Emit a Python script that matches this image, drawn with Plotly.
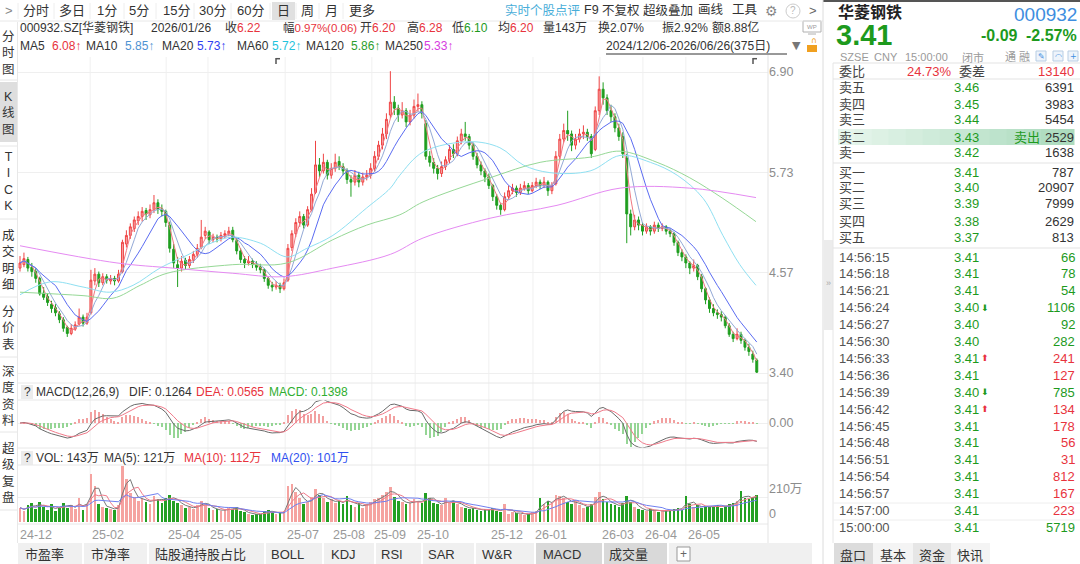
import plotly.graph_objects as go
import pandas as pd

# one candle = two trading days, 2024/12/06 - 2026/06/26
opens = [4.62, 4.66, 4.72, 4.63, 4.58, 4.50, 4.33, 4.29, 4.20, 4.16,
         4.09, 4.02, 3.93, 3.86, 3.91, 3.97, 4.05, 3.98, 4.10, 4.47,
         4.55, 4.45, 4.52, 4.47, 4.50, 4.47, 4.58, 4.90, 5.00, 5.08,
         5.17, 5.22, 5.29, 5.24, 5.30, 5.38, 5.31, 5.28, 5.12, 4.84,
         4.66, 4.62, 4.71, 4.65, 4.72, 4.78, 4.86, 5.00, 5.04, 4.95,
         4.98, 4.96, 5.00, 5.02, 5.06, 4.94, 4.82, 4.72, 4.68, 4.70,
         4.66, 4.63, 4.60, 4.50, 4.42, 4.40, 4.42, 4.38, 4.48, 4.86,
         5.02, 5.15, 5.22, 5.12, 5.30, 5.50, 5.82, 5.75, 5.85, 5.70,
         5.78, 5.86, 5.80, 5.75, 5.65, 5.62, 5.70, 5.62, 5.68, 5.70,
         5.78, 5.92, 6.05, 6.18, 6.40, 6.55, 6.48, 6.40, 6.45, 6.32,
         6.40, 6.50, 6.52, 6.30, 5.92, 5.85, 5.78, 5.72, 5.80, 5.88,
         6.00, 5.95, 6.10, 6.18, 6.15, 6.05, 5.92, 5.82, 5.75, 5.68,
         5.58, 5.45, 5.35, 5.30, 5.45, 5.52, 5.55, 5.50, 5.55, 5.58,
         5.52, 5.58, 5.62, 5.58, 5.62, 5.52, 5.60, 5.92, 6.12, 6.22,
         6.18, 6.05, 6.12, 6.18, 6.20, 6.15, 6.00, 6.45, 6.70, 6.60,
         6.45, 6.38, 6.25, 6.15, 5.90, 5.25, 5.10, 5.18, 5.12, 5.05,
         5.10, 5.05, 5.12, 5.08, 5.10, 5.05, 5.02, 4.92, 4.80, 4.75,
         4.68, 4.62, 4.65, 4.52, 4.38, 4.25, 4.15, 4.10, 4.08, 4.05,
         3.95, 3.85, 3.80, 3.85, 3.78, 3.70, 3.62, 3.55]
highs = [4.76, 4.80, 4.75, 4.68, 4.62, 4.52, 4.40, 4.33, 4.24, 4.20,
         4.12, 4.05, 3.95, 3.97, 4.00, 4.15, 4.08, 4.10, 4.60, 4.62,
         4.58, 4.56, 4.55, 4.54, 4.53, 4.60, 4.95, 5.06, 5.14, 5.22,
         5.28, 5.33, 5.32, 5.36, 5.47, 5.42, 5.36, 5.30, 5.16, 4.90,
         4.75, 4.76, 4.74, 4.76, 4.82, 4.90, 5.18, 5.10, 5.06, 5.02,
         5.01, 5.04, 5.06, 5.10, 5.10, 4.97, 4.85, 4.76, 4.76, 4.73,
         4.70, 4.67, 4.62, 4.52, 4.46, 4.47, 4.45, 4.50, 4.90, 5.06,
         5.20, 5.28, 5.25, 5.34, 5.55, 6.10, 5.90, 5.95, 5.88, 5.84,
         5.95, 5.92, 5.84, 5.78, 5.70, 5.76, 5.74, 5.73, 5.76, 5.84,
         5.98, 6.10, 6.25, 6.42, 6.91, 6.62, 6.52, 6.55, 6.48, 6.46,
         6.58, 6.65, 6.56, 6.34, 5.98, 5.90, 5.82, 5.86, 5.92, 6.05,
         6.06, 6.15, 6.24, 6.32, 6.18, 6.08, 5.96, 5.86, 5.78, 5.72,
         5.60, 5.48, 5.38, 5.50, 5.58, 5.60, 5.58, 5.60, 5.63, 5.61,
         5.62, 5.67, 5.65, 5.68, 5.64, 5.62, 5.98, 6.18, 6.30, 6.45,
         6.22, 6.18, 6.24, 6.28, 6.24, 6.18, 6.50, 6.85, 6.78, 6.64,
         6.52, 6.42, 6.30, 6.20, 5.95, 5.30, 5.24, 5.22, 5.15, 5.14,
         5.12, 5.16, 5.15, 5.14, 5.12, 5.08, 5.04, 4.94, 4.84, 4.78,
         4.70, 4.72, 4.67, 4.55, 4.40, 4.28, 4.20, 4.14, 4.12, 4.07,
         3.98, 3.88, 3.92, 3.88, 3.80, 3.74, 3.66, 3.57]
lows = [4.58, 4.63, 4.58, 4.52, 4.45, 4.30, 4.25, 4.18, 4.10, 4.06,
        3.98, 3.88, 3.82, 3.84, 3.89, 3.95, 3.94, 3.96, 4.08, 4.42,
        4.40, 4.42, 4.44, 4.43, 4.42, 4.45, 4.56, 4.86, 4.96, 5.04,
        5.12, 5.16, 5.18, 5.20, 5.26, 5.25, 5.22, 5.10, 4.80, 4.62,
        4.40, 4.58, 4.60, 4.62, 4.68, 4.74, 4.84, 4.96, 4.90, 4.92,
        4.92, 4.93, 4.97, 4.99, 4.92, 4.78, 4.68, 4.62, 4.65, 4.62,
        4.59, 4.56, 4.46, 4.38, 4.35, 4.37, 4.33, 4.36, 4.46, 4.82,
        4.98, 5.10, 5.08, 5.10, 5.28, 5.48, 5.68, 5.72, 5.65, 5.66,
        5.74, 5.76, 5.70, 5.60, 5.45, 5.58, 5.56, 5.58, 5.64, 5.66,
        5.74, 5.88, 6.00, 6.12, 6.36, 6.40, 6.32, 6.36, 6.26, 6.28,
        6.36, 6.44, 6.36, 5.88, 5.80, 5.72, 5.65, 5.68, 5.76, 5.84,
        5.90, 5.92, 6.06, 6.10, 6.00, 5.88, 5.78, 5.70, 5.62, 5.54,
        5.40, 5.30, 5.24, 5.28, 5.42, 5.48, 5.45, 5.47, 5.52, 5.48,
        5.50, 5.55, 5.54, 5.55, 5.46, 5.48, 5.58, 5.88, 6.08, 6.10,
        5.98, 6.00, 6.08, 6.12, 6.10, 5.90, 5.98, 6.40, 6.52, 6.40,
        6.32, 6.20, 6.10, 5.90, 4.91, 5.00, 5.06, 5.06, 5.00, 5.02,
        5.00, 5.02, 5.04, 5.05, 5.01, 4.98, 4.88, 4.76, 4.70, 4.62,
        4.55, 4.58, 4.48, 4.34, 4.20, 4.10, 4.06, 4.03, 4.00, 3.92,
        3.82, 3.76, 3.78, 3.74, 3.66, 3.60, 3.52, 3.40]
closes = [4.68, 4.73, 4.62, 4.58, 4.50, 4.32, 4.28, 4.22, 4.15, 4.10,
          4.02, 3.92, 3.86, 3.92, 3.96, 4.05, 3.98, 4.05, 4.48, 4.55,
          4.45, 4.52, 4.48, 4.50, 4.47, 4.55, 4.92, 5.00, 5.10, 5.18,
          5.22, 5.28, 5.25, 5.30, 5.38, 5.30, 5.28, 5.15, 4.85, 4.68,
          4.62, 4.70, 4.65, 4.72, 4.78, 4.85, 4.98, 5.05, 4.95, 4.98,
          4.96, 5.00, 5.02, 5.05, 4.95, 4.82, 4.72, 4.68, 4.70, 4.66,
          4.63, 4.60, 4.50, 4.42, 4.40, 4.42, 4.38, 4.45, 4.85, 5.02,
          5.15, 5.22, 5.12, 5.30, 5.48, 5.82, 5.75, 5.85, 5.70, 5.78,
          5.85, 5.80, 5.75, 5.65, 5.62, 5.70, 5.62, 5.68, 5.70, 5.78,
          5.92, 6.05, 6.18, 6.35, 6.55, 6.48, 6.40, 6.45, 6.32, 6.40,
          6.50, 6.52, 6.42, 5.92, 5.85, 5.78, 5.72, 5.80, 5.88, 6.00,
          5.95, 6.10, 6.18, 6.15, 6.05, 5.92, 5.82, 5.75, 5.68, 5.58,
          5.45, 5.35, 5.30, 5.45, 5.52, 5.55, 5.50, 5.55, 5.58, 5.52,
          5.58, 5.62, 5.58, 5.62, 5.52, 5.58, 5.92, 6.12, 6.22, 6.18,
          6.05, 6.12, 6.18, 6.20, 6.15, 5.95, 6.45, 6.70, 6.60, 6.45,
          6.38, 6.25, 6.15, 5.95, 5.25, 5.10, 5.18, 5.12, 5.05, 5.10,
          5.05, 5.12, 5.08, 5.10, 5.05, 5.02, 4.92, 4.80, 4.75, 4.68,
          4.62, 4.65, 4.52, 4.38, 4.25, 4.15, 4.10, 4.08, 4.05, 3.95,
          3.85, 3.80, 3.85, 3.78, 3.70, 3.65, 3.56, 3.41]
volumes = [120, 95, 140, 160, 110, 170, 130, 100, 150, 90,
           130, 160, 120, 140, 110, 200, 100, 150, 400, 300,
           150, 130, 120, 110, 100, 140, 470, 360, 240, 210,
           180, 200, 170, 150, 220, 190, 160, 200, 230, 180,
           160, 140, 120, 130, 110, 140, 180, 150, 120, 100,
           110, 90, 100, 120, 110, 130, 90, 80, 70, 60,
           65, 70, 90, 100, 80, 70, 75, 90, 300, 320,
           250, 200, 150, 170, 210, 280, 230, 200, 170, 190,
           160, 180, 150, 220, 140, 130, 160, 120, 150, 170,
           190, 200, 230, 250, 290, 210, 180, 170, 150, 160,
           190, 170, 160, 240, 200, 160, 150, 140, 200, 160,
           180, 150, 130, 120, 110, 120, 100, 90, 110, 100,
           120, 90, 80, 150, 70, 80, 75, 70, 60, 65,
           80, 90, 200, 150, 180, 160, 230, 220, 200, 170,
           150, 180, 140, 120, 130, 150, 210, 250, 190, 170,
           150, 140, 130, 160, 220, 170, 130, 110, 100, 90,
           110, 100, 85, 95, 90, 100, 110, 120, 105, 220,
           150, 130, 140, 120, 135, 125, 130, 140, 120, 135,
           150, 160, 180, 260, 200, 190, 210, 230]  # 万股

# month boundaries (candle index) and their labels
month_pos = [-0.5, 17.8, 37.1, 47.7, 67.3, 78.9, 89.3, 100.3, 119.0, 130.2, 147.2, 158.1, 169.0]
month_labels = ["24-12", "25-02", "25-04", "25-05", "25-07", "25-08", "25-09", "25-10",
                "25-12", "26-01", "26-03", "26-04", "26-05"]

# long moving averages: (candle index, price)
ma60_at = [0, 7.6, 16, 22.8, 28.7, 35.5, 42.4, 49, 54, 61, 67.8, 72.8, 79.4, 88, 94, 96.4,
           102.3, 114.2, 121.8, 127.7, 134.5, 144.7, 152.3, 160, 166.8, 173.4, 178.4, 182.7, 186.8]
ma60_val = [4.31, 4.46, 4.40, 4.34, 4.42, 4.62, 4.77, 4.92, 4.98, 4.91, 4.75, 4.85, 5.00, 5.32, 5.55, 5.70,
            5.97, 6.09, 6.02, 5.82, 5.73, 5.75, 5.93, 5.85, 5.70, 5.43, 5.00, 4.66, 4.42]
ma120_at = [0, 16, 23.6, 30.5, 37.3, 54, 67.8, 79.4, 88, 96.4, 102.3, 119.3, 132, 144.7, 152.3,
            161.7, 170, 178.4, 186.8]
ma120_val = [4.34, 4.30, 4.27, 4.42, 4.56, 4.66, 4.68, 4.95, 5.12, 5.24, 5.39, 5.67, 5.85, 5.91, 5.98,
             5.85, 5.67, 5.43, 5.16]
ma250_at = [0, 24.6, 38.8, 54, 66.8, 79.4, 94, 102.3, 119.3, 136.3, 152.3, 170, 186.8]
ma250_val = [4.88, 4.68, 4.62, 4.56, 4.52, 4.62, 4.78, 4.97, 5.20, 5.35, 5.55, 5.55, 5.44]

# order book and last trades
book_labels = ["卖五", "卖四", "卖三", "卖二", "卖一", "买一", "买二", "买三", "买四", "买五"]
book_prices = ["3.46", "3.45", "3.44", "3.43", "3.42", "3.41", "3.40", "3.39", "3.38", "3.37"]
book_vols = [6391, 3983, 5454, 2529, 1638, 787, 20907, 7999, 2629, 813]
tick_times = ["14:56:15", "14:56:18", "14:56:21", "14:56:24", "14:56:27", "14:56:30", "14:56:33",
              "14:56:36", "14:56:39", "14:56:42", "14:56:45", "14:56:48", "14:56:51", "14:56:54",
              "14:56:57", "14:57:00", "15:00:00"]
tick_prices = ["3.41", "3.41", "3.41", "3.40", "3.40", "3.40", "3.41", "3.41", "3.40", "3.41",
               "3.41", "3.41", "3.41", "3.41", "3.41", "3.41", "3.41"]
tick_vols = [66, 78, 54, 1106, 92, 282, 241, 127, 785, 134, 178, 56, 31, 812, 167, 223, 5719]
tick_side = ["S", "S", "S", "S", "S", "S", "B", "B", "S", "B", "B", "B", "B", "B", "B", "B", "S"]
tick_arrow = ["", "", "", "down", "", "", "up", "", "down", "up", "", "", "", "", "", "", ""]

W, H = 1080, 564
FONT = "Liberation Sans, Noto Sans CJK SC"
RED, GREEN = "#e8333d", "#1d9a1d"
UP = "↑"

n = len(closes)
idx = list(range(n))
s = pd.Series(closes)
ma5 = s.rolling(3, min_periods=1).mean()
ma10 = s.rolling(5, min_periods=1).mean()
ma20 = s.rolling(10, min_periods=1).mean()
# MACD(12,26,9) on two-day bars
dif = s.ewm(alpha=0.284, adjust=False).mean() - s.ewm(alpha=0.1427, adjust=False).mean()
dea = dif.ewm(alpha=0.36, adjust=False).mean()
hist = 2 * (dif - dea)
v = pd.Series(volumes)
vma5 = v.rolling(3, min_periods=1).mean()
vma10 = v.rolling(5, min_periods=1).mean()
vma20 = v.rolling(10, min_periods=1).mean()
up = [c >= o for o, c in zip(opens, closes)]

fig = go.Figure()
fig.add_trace(go.Candlestick(
    x=idx, open=opens, high=highs, low=lows, close=closes, whiskerwidth=0,
    increasing=dict(line=dict(color="#ef4444", width=1), fillcolor="#f6a8a8"),
    decreasing=dict(line=dict(color="#1f9e1f", width=1), fillcolor="#1f9e1f"),
    hoverinfo="skip", xaxis="x", yaxis="y"))
for y, col in [(ma5, "#f07882"), (ma10, "#93a9d6"), (ma20, "#5b6cf2")]:
    fig.add_trace(go.Scatter(x=idx, y=y, mode="lines", line=dict(color=col, width=1),
                             hoverinfo="skip", xaxis="x", yaxis="y"))
for xs, ys, col in [(ma60_at, ma60_val, "#8fe0f2"), (ma120_at, ma120_val, "#96d896"),
                    (ma250_at, ma250_val, "#e58af2")]:
    fig.add_trace(go.Scatter(x=xs, y=ys, mode="lines", line=dict(color=col, width=1, shape="spline"),
                             hoverinfo="skip", xaxis="x", yaxis="y"))

fig.add_trace(go.Bar(x=idx, y=hist, width=0.3,
                     marker=dict(color=["#f2a0a0" if h >= 0 else "#95d595" for h in hist], line_width=0),
                     hoverinfo="skip", xaxis="x2", yaxis="y2"))
fig.add_trace(go.Scatter(x=idx, y=dif, mode="lines", line=dict(color="#6a6a6a", width=1),
                         hoverinfo="skip", xaxis="x2", yaxis="y2"))
fig.add_trace(go.Scatter(x=idx, y=dea, mode="lines", line=dict(color="#f07a8a", width=1),
                         hoverinfo="skip", xaxis="x2", yaxis="y2"))

fig.add_trace(go.Bar(x=idx, y=volumes, width=0.68,
                     marker=dict(color=["#f5a3a0" if u else "#23a023" for u in up], line_width=0),
                     hoverinfo="skip", xaxis="x3", yaxis="y3"))
for y, col in [(vma5, "#777777"), (vma10, "#f07a8a"), (vma20, "#7080f0")]:
    fig.add_trace(go.Scatter(x=idx, y=y, mode="lines", line=dict(color=col, width=1),
                             hoverinfo="skip", xaxis="x3", yaxis="y3"))

ann = []
shapes = []


def text(x, y, t, size=12, color="#333", anchor="left", family=FONT, bold=False):
    if bold:
        t = "<b>" + t + "</b>"
    ann.append(dict(x=x / W, y=1 - y / H, xref="paper", yref="paper", text=t, showarrow=False,
                    xanchor=anchor, yanchor="middle", borderpad=0,
                    font=dict(size=size, color=color, family=family)))


def rect(x0, y0, x1, y1, fill, line=None):
    shapes.append(dict(type="rect", xref="paper", yref="paper", x0=x0 / W, x1=x1 / W,
                       y0=1 - y1 / H, y1=1 - y0 / H, fillcolor=fill,
                       line=dict(color=line or fill, width=1 if line else 0), layer="below"))


def line(x0, y0, x1, y1, color="#e6e6e6", width=1):
    shapes.append(dict(type="line", xref="paper", yref="paper", x0=x0 / W, x1=x1 / W,
                       y0=1 - y0 / H, y1=1 - y1 / H, line=dict(color=color, width=width)))


def c(t, col):
    return "<span style='color:%s'>%s</span>" % (col, t)


# ---- toolbar ----
rect(272, 2, 295, 20, "#e0e0e0")
text(9, 10.5, ">", 13, "#888", "center")
for t, x in [("分时", 36), ("多日", 72), ("1分", 107), ("5分", 139), ("15分", 176), ("30分", 212),
             ("60分", 250), ("日", 283), ("周", 307), ("月", 331), ("更多", 362)]:
    text(x, 10.5, t, 13, "#333", "center")
for x in [18, 54, 90, 124, 156, 194, 231, 270, 296, 319, 343]:
    line(x, 3, x, 19, "#eeeeee")
line(0, 21, 823, 21, "#e8e8e8")
text(542, 10.5, "实时个股点评", 12.5, "#4aaed9", "center")
for t, x in [("F9", 591), ("不复权", 621), ("超级叠加", 668), ("画线", 711), ("工具", 745)]:
    text(x, 10.5, t, 12.5, "#333", "center")
text(771, 11, "⚙", 14, "#888", "center", "DejaVu Sans")
shapes.append(dict(type="circle", xref="paper", yref="paper", x0=786 / W, x1=800 / W,
                   y0=1 - 18 / H, y1=1 - 4 / H, line=dict(color="#cccccc", width=1)))
text(793, 11, "?", 10, "#bbbbbb", "center")
text(813, 10.5, ">", 13, "#666", "center")

# ---- info rows ----
text(19, 28, "000932.SZ[华菱钢铁]")
text(150, 28, "2026/01/26")
text(224, 28, "收" + c("6.22", RED))
text(282, 28, "幅" + c("0.97%(0.06)", RED), 11.5)
text(359, 28, "开" + c("6.20", RED))
text(406, 28, "高" + c("6.28", RED))
text(451, 28, "低" + c("6.10", GREEN))
text(497, 28, "均" + c("6.20", RED))
text(542, 28, "量143万")
text(597, 28, "换2.07%")
text(661, 28, "振2.92%")
text(711, 28, "额8.88亿")
rect(803, 21, 821, 32, "white", "#b0b0b0")
text(812, 26.5, "WP", 6, "#999", "center")
line(808, 34, 816, 34, "#b0b0b0")

for t, x, col in [("MA5", 19, None), ("6.08" + UP, 51, RED), ("MA10", 85, None), ("5.85" + UP, 124, "#4f93d2"),
                  ("MA20", 161, None), ("5.73" + UP, 196, "#2f3ff0"), ("MA60", 236, None),
                  ("5.72" + UP, 271, "#22c3dc"), ("MA120", 305, None), ("5.86" + UP, 350, "#2e9e2e"),
                  ("MA250", 384, None), ("5.33" + UP, 423, "#d63ce0")]:
    text(x, 46, c(t, col) if col else t)
text(605, 46, "2024/12/06-2026/06/26(375日)")
line(606, 54, 787, 54, "#333", 1)
text(796, 46, "▼", 11, "#777", "center", "DejaVu Sans")
rect(807, 45, 817, 52, "#f0a020")
text(814, 41, "∩", 8, "#f0a020", "center", "DejaVu Sans")

# ---- left sidebar ----
rect(0, 82, 17, 142, "#dedede")
for t, y in [("分<br>时<br>图", 53), ("K<br>线<br>图", 113), ("T<br>I<br>C<br>K", 181),
             ("成<br>交<br>明<br>细", 260), ("分<br>价<br>表", 328), ("深<br>度<br>资<br>料", 396),
             ("超<br>级<br>复<br>盘", 473)]:
    text(8.5, y, t, 12.5, "#333", "center")
for y in [80, 146, 219, 297, 357, 432, 510]:
    line(0, y, 17, y, "#e6e6e6")
line(17.5, 22, 17.5, 543, "#e8e8e8")

# ---- pane frames ----
for y in [383, 400, 448, 465, 524]:
    line(18, y, 768, y, "#e8e8e8")
line(768, 55, 768, 543, "#e3e3e3")
for p in month_pos[1:]:
    shapes.append(dict(type="line", xref="x", yref="paper", x0=p, x1=p, y0=1 - 524 / H, y1=1 - 57 / H,
                       line=dict(color="#f0f0f0", width=1), layer="below"))
for x in [276, 753]:
    line(x, 58, x, 64, "#555", 1.5)
    line(x, 58.7, x + 4, 58.7, "#555", 1.5)

rect(21, 385, 33, 399, "#ececec")
text(27, 392, "?", 12, "#333", "center")
text(35, 392, "MACD(12,26,9)")
text(128, 392, "DIF: 0.1264")
text(195, 392, c("DEA: 0.0565", RED))
text(268, 392, c("MACD: 0.1398", "#2fae2f"))
rect(21, 451, 33, 465, "#ececec")
text(27, 458, "?", 12, "#333", "center")
text(35, 458, "VOL: 143万")
text(103, 458, "MA(5): 121万")
text(183, 458, c("MA(10): 112万", RED))
text(270, 458, c("MA(20): 101万", "#3050f0"))

for p, t in zip(month_pos, month_labels):
    ann.append(dict(x=p, y=1 - 535 / H, xref="x3", yref="paper", text=t, showarrow=False,
                    xanchor="left", yanchor="middle", xshift=1, borderpad=0,
                    font=dict(size=12.5, color="#999", family=FONT)))

# ---- bottom tabs ----
rect(18, 543, 812, 564, "#f0f0f0")
rect(536, 543, 668, 564, "#d9d9d9")
for x in [83, 148, 265, 323, 375, 422, 475, 535, 603, 668]:
    line(x, 543, x, 564, "white", 2)
for t, x in [("市盈率", 44), ("市净率", 110), ("陆股通持股占比", 200), ("BOLL", 287), ("KDJ", 343),
             ("RSI", 392), ("SAR", 441), ("W&R", 497), ("MACD", 562), ("成交量", 628)]:
    text(x, 554, t, 13, "#333", "center")
rect(677, 547, 690, 561, "white", "#999")
text(683.5, 554, "+", 12, "#666", "center")

# ---- separator ----
line(823, 0, 823, 564, "#dcdcdc")
rect(824, 240, 833, 330, "#ececec")
text(828.5, 283, "»", 9, "#aaa", "center")
rect(823, 0, 1080, 2, "#555")

# ---- quote panel ----
text(837, 11.5, "华菱钢铁", 16, "#222", bold=True)
text(1078, 15, "000932", 19, "#3e8ee0", "right")
text(835, 34.5, "3.41", 29, GREEN, bold=True)
text(1019, 35, "-0.09", 16, GREEN, "right", bold=True)
text(1078, 35, "-2.57%", 16, GREEN, "right", bold=True)
for t, x in [("SZSE", 839), ("CNY", 873), ("15:00:00", 904), ("闭市", 961), ("通 融", 1004)]:
    text(x, 57, t, 11, "#9a9a9a")
for x, g in [(1041, "✎"), (1058, "◠"), (1073, "+")]:
    rect(x - 5, 51, x + 5, 61, "#eef4fb", "#b8cde3")
    text(x, 56, g, 8, "#3e8ee0", "center", "DejaVu Sans")
line(833, 63, 1080, 63, "#e3e3e3")
line(833, 63, 833, 543, "#e6e6e6")
text(838, 71, "委比", 13, "#444")
text(953, 71, "24.73%", 13, RED, "right")
text(958, 71, "委差", 13, "#444")
text(1075, 71, "13140", 13, RED, "right")
line(833, 79, 1080, 79, "#e3e3e3")

steps = 14
for k in range(steps):
    f = k / (steps - 1)
    col = "rgb(%d,%d,%d)" % (230 - 58 * f, 245 - 26 * f, 236 - 46 * f)
    rect(838 + 236 * k / steps, 129, 838 + 236 * (k + 1) / steps + 0.5, 145, col)
book_y = [87, 104, 120, 137, 153, 172, 188, 204, 221, 237]
for lab, pr, vol, y in zip(book_labels, book_prices, book_vols, book_y):
    text(838, y, lab, 13, "#444")
    text(953, y, pr, 13, GREEN)
    text(1075, y, str(vol), 13, "#333", "right")
text(1013, 137, "卖出", 13, GREEN)
line(833, 163, 1080, 163, "#e3e3e3")
line(833, 248, 1080, 248, "#e3e3e3")

for k, (tm, pr, vol, sd, ar) in enumerate(zip(tick_times, tick_prices, tick_vols, tick_side, tick_arrow)):
    y = 257 + k * 16.9
    text(838, y, tm, 13, "#555")
    text(953, y, pr, 13, GREEN)
    if ar:
        text(985, y, "⬇" if ar == "down" else "⬆", 9, GREEN if ar == "down" else RED, "center", "DejaVu Sans")
    text(1076, y, str(vol), 13, RED if sd == "B" else GREEN, "right")
line(833, 503, 1080, 503, "#eeeeee")
line(833, 520, 1080, 520, "#eeeeee")

rect(834, 543, 873, 564, "#dcdcdc")
rect(873, 543, 913, 564, "#f4f4f4")
rect(913, 543, 951, 564, "#e6e6e6")
rect(951, 543, 990, 564, "#f4f4f4")
for t, x in [("盘口", 853), ("基本", 893), ("资金", 932), ("快讯", 970)]:
    text(x, 555, t, 13, "#333", "center")

xa = dict(domain=[18 / W, 768 / W], range=[-0.51, 189.85], showticklabels=False, showgrid=False,
          zeroline=False, fixedrange=True, showline=False, ticks="")
ya = dict(side="right", zeroline=False, showline=False, ticks="", fixedrange=True,
          gridcolor="#efefef", tickfont=dict(size=12.5, color="#8c8c8c", family=FONT))
fig.update_layout(
    width=W, height=H, margin=dict(l=0, r=0, t=0, b=0), showlegend=False,
    paper_bgcolor="white", plot_bgcolor="white", font=dict(family=FONT, size=12, color="#333"),
    xaxis=dict(xa, anchor="y", rangeslider=dict(visible=False)),
    xaxis2=dict(xa, anchor="y2"),
    xaxis3=dict(xa, anchor="y3"),
    yaxis=dict(ya, domain=[1 - 383 / H, 1 - 55 / H], range=[3.284, 7.098], anchor="x",
               tickvals=[3.40, 4.57, 5.73, 6.90], ticktext=["3.40", "4.57", "5.73", "6.90"]),
    yaxis2=dict(ya, domain=[1 - 448 / H, 1 - 400 / H], range=[-0.306, 0.282], anchor="x2",
                tickvals=[0], ticktext=["0.00"]),
    yaxis3=dict(ya, domain=[1 - 522 / H, 1 - 465 / H], range=[0, 479], anchor="x3",
                tickvals=[0, 210], ticktext=["0", "210万"], ticklabelposition="outside top"),
    annotations=ann, shapes=shapes, bargap=0,
)

fig.write_html("out.html", config={"displayModeBar": False},
               post_script="document.body.style.margin='0';document.body.style.overflow='hidden';")
